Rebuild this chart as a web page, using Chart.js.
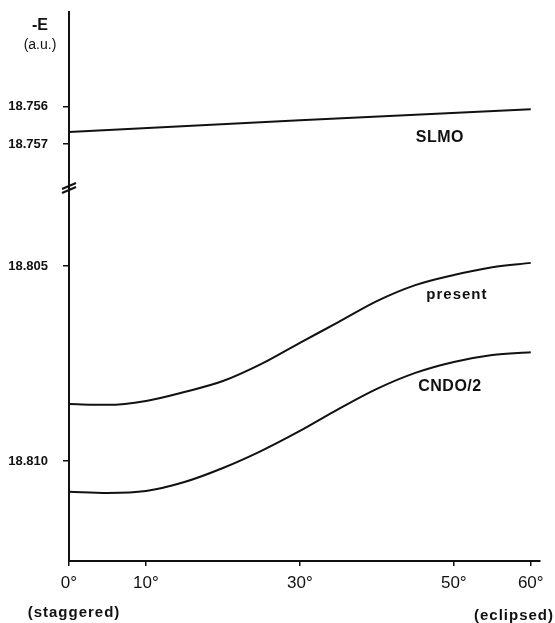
<!DOCTYPE html>
<html>
<head>
<meta charset="utf-8">
<script src="https://cdn.jsdelivr.net/npm/chart.js@4.4.1/dist/chart.umd.min.js"></script>
<style>
  html, body { margin: 0; padding: 0; background: #fff; }
  #wrap { width: 555px; height: 623px; position: relative; }
</style>
</head>
<body>
<div id="wrap"><canvas id="c" width="555" height="623"></canvas></div>
<script>
// ---- data ----
const angles = [0, 5, 10, 15, 20, 25, 30, 35, 40, 45, 50, 55, 60];          // torsion angle (deg)
const presentE = [18.80854, 18.80856, 18.80846, 18.80823, 18.80795, 18.80751, 18.80697,
                  18.80644, 18.80590, 18.80549, 18.80523, 18.80503, 18.80492];
const cndoE    = [18.81079, 18.81082, 18.81077, 18.81054, 18.81018, 18.80974, 18.80923,
                  18.80867, 18.80815, 18.80774, 18.80746, 18.80728, 18.80721];
const slmoAngles = [0, 30, 60];
const slmoE      = [18.75668, 18.75636, 18.75607];
const xTicks   = [0, 10, 30, 50, 60];
const yTopTicks = [18.756, 18.757];
const yBotTicks = [18.805, 18.810];
const seriesNames = ['SLMO', 'present', 'CNDO/2'];

const pts = (xs, ys) => xs.map((x, i) => ({ x: x, y: ys[i] }));

const lineStyle = { borderColor: '#111', borderWidth: 2, pointRadius: 0, fill: false, cubicInterpolationMode: 'monotone' };
const FAM = '"Liberation Sans", Arial, sans-serif';

const overlay = {
  id: 'overlay',
  afterDraw(chart) {
    const ctx = chart.ctx;
    const xs = chart.scales.x, yt = chart.scales.yTop, yb = chart.scales.yBot;
    ctx.save();
    ctx.fillStyle = '#111';
    ctx.textAlign = 'center';
    ctx.textBaseline = 'middle';
    // series labels
    ctx.font = 'bold 16px ' + FAM;
    ctx.letterSpacing = '0.5px';
    ctx.fillText(seriesNames[0], xs.getPixelForValue(48.2), yt.getPixelForValue(18.75684));
    ctx.font = 'bold 15px ' + FAM;
    ctx.letterSpacing = '1px';
    ctx.fillText(seriesNames[1], xs.getPixelForValue(50.4), yb.getPixelForValue(18.80574));
    ctx.font = 'bold 16px ' + FAM;
    ctx.letterSpacing = '0.5px';
    ctx.fillText(seriesNames[2], xs.getPixelForValue(49.5), yb.getPixelForValue(18.80810));
    // axis title
    ctx.letterSpacing = '0px';
    ctx.font = 'bold 16px ' + FAM;
    ctx.fillText('-E', 40, 26);
    ctx.font = '14px ' + FAM;
    ctx.fillText('(a.u.)', 40, 45);
    // x-axis end notes
    ctx.font = 'bold 15px ' + FAM;
    ctx.letterSpacing = '1px';
    ctx.fillText('(staggered)', 74, 613);
    ctx.fillText('(eclipsed)', 514, 616);
    // axis break mark
    const bx = chart.chartArea.left, by = yt.bottom;
    ctx.strokeStyle = '#111';
    ctx.lineWidth = 2;
    for (const d of [-2, 2]) {
      ctx.beginPath();
      ctx.moveTo(bx - 7, by + 3 + d);
      ctx.lineTo(bx + 7, by - 3 + d);
      ctx.stroke();
    }
    ctx.restore();
  }
};

const axisFont = { family: FAM, size: 13, weight: 'bold' };
const fitY = s => { s.width = 69; s.paddingTop = 0; s.paddingBottom = 0; };

new Chart(document.getElementById('c'), {
  type: 'line',
  data: {
    datasets: [
      Object.assign({ label: seriesNames[0], data: pts(slmoAngles, slmoE), yAxisID: 'yTop' }, lineStyle, { cubicInterpolationMode: 'default', tension: 0 }),
      Object.assign({ label: seriesNames[1], data: pts(angles, presentE), yAxisID: 'yBot' }, lineStyle),
      Object.assign({ label: seriesNames[2], data: pts(angles, cndoE), yAxisID: 'yBot' }, lineStyle)
    ]
  },
  options: {
    responsive: false,
    animation: false,
    events: [],
    layout: { padding: { top: 12, right: 15, bottom: 0, left: 0 } },
    plugins: { legend: { display: false }, tooltip: { enabled: false } },
    scales: {
      x: {
        type: 'linear', min: 0, max: 61.2,
        afterBuildTicks: s => { s.ticks = xTicks.map(v => ({ value: v })); },
        afterFit: s => { s.height = 62; },
        grid: { display: true, drawOnChartArea: false, drawTicks: true, tickLength: 5, color: '#111', lineWidth: 1.5 },
        border: { display: true, color: '#111', width: 2 },
        ticks: { color: '#111', padding: 7, maxRotation: 0, autoSkip: false,
                 font: { family: FAM, size: 17 },
                 callback: v => v + '°' }
      },
      yBot: {
        type: 'linear', position: 'left', stack: 'e', stackWeight: 373,
        reverse: true, min: 18.803, max: 18.812564,
        afterBuildTicks: s => { s.ticks = yBotTicks.map(v => ({ value: v })); },
        afterFit: fitY,
        grid: { display: true, drawOnChartArea: false, drawTicks: true, tickLength: 6, color: '#111', lineWidth: 1.5 },
        border: { display: true, color: '#111', width: 2 },
        ticks: { color: '#111', padding: 15, font: axisFont, callback: v => v.toFixed(3) }
      },
      yTop: {
        type: 'linear', position: 'left', stack: 'e', stackWeight: 176,
        reverse: true, min: 18.753461, max: 18.758179,
        afterBuildTicks: s => { s.ticks = yTopTicks.map(v => ({ value: v })); },
        afterFit: fitY,
        grid: { display: true, drawOnChartArea: false, drawTicks: true, tickLength: 6, color: '#111', lineWidth: 1.5 },
        border: { display: true, color: '#111', width: 2 },
        ticks: { color: '#111', padding: 15, font: axisFont, callback: v => v.toFixed(3) }
      }
    }
  },
  plugins: [overlay]
});
</script>
</body>
</html>
